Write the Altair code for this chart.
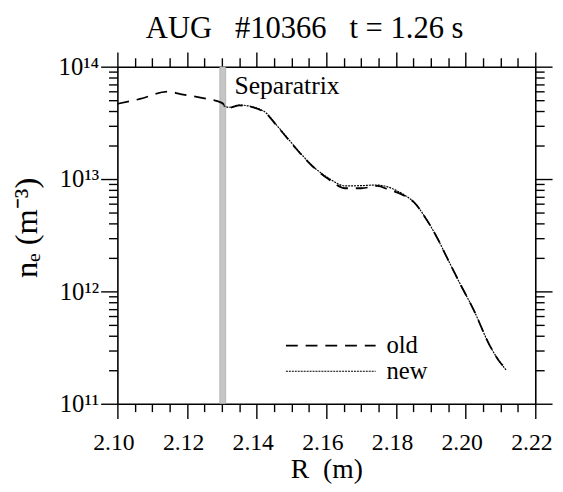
import altair as alt
import pandas as pd

FONT = "Liberation Serif"
NB = "\u00a0"

# ---- data ----
R_old = [2.100, 2.1065, 2.1144, 2.1181, 2.1258, 2.1300, 2.1319, 2.1351, 2.1418, 2.1464,
         2.1512, 2.1560, 2.1606, 2.1654, 2.1701, 2.1747, 2.1776, 2.1824, 2.1852, 2.1889,
         2.1917, 2.1945, 2.1984, 2.2022, 2.2069, 2.2097, 2.2116]
ne_old = [4.67e13, 5.16e13, 6.0e13, 5.71e13, 5.16e13, 4.76e13, 4.29e13, 4.52e13, 4.01e13, 2.82e13,
          1.88e13, 1.30e13, 1.0e13, 8.28e12, 8.28e12, 8.69e12, 8.11e12, 7.10e12, 6.19e12, 4.29e12,
          3.05e12, 2.04e12, 1.17e12, 6.95e11, 3.31e11, 2.38e11, 2.07e11]

R_new = [2.1305, 2.1319, 2.1351, 2.1418, 2.1464, 2.1512, 2.1560, 2.1606, 2.1654, 2.1701,
         2.1747, 2.1776, 2.1824, 2.1852, 2.1889, 2.1917, 2.1945, 2.1984, 2.2022, 2.2069,
         2.2097, 2.2116]
ne_new = [4.5e13, 4.35e13, 4.55e13, 4.05e13, 2.85e13, 1.9e13, 1.31e13, 1.02e13, 8.69e12, 8.74e12,
          8.85e12, 8.51e12, 7.2e12, 6.2e12, 4.3e12, 3.05e12, 2.04e12, 1.17e12, 6.95e11, 3.31e11,
          2.38e11, 2.0e11]

series_names = ["old", "new"]
sep_R = [2.1294, 2.1311]
y_range = [1e11, 1e14]
sep_label = ["Separatrix"]
sep_label_pos = [2.1336, 5.68e13]

x_ticks = [2.100, 2.105, 2.110, 2.115, 2.120, 2.125, 2.130, 2.135, 2.140, 2.145, 2.150, 2.155,
           2.160, 2.165, 2.170, 2.175, 2.180, 2.185, 2.190, 2.195, 2.200, 2.205, 2.210, 2.215, 2.220]
y_ticks = [k * 10 ** n for n in (11, 12, 13) for k in range(1, 10)] + [10 ** 14]
y_major = [10 ** 11, 10 ** 12, 10 ** 13, 10 ** 14]
y_major_labels = ["10¹¹", "10¹²", "10¹³", "10¹⁴"]

title_text = "AUG" + NB * 3 + "#10366" + NB * 3 + "t = 1.26 s"
x_title = "R" + NB * 2 + "(m)"
y_title = "nₑ" + NB + "(m⁻³)"

# ---- tables ----
df = pd.concat([
    pd.DataFrame({"R": R_old, "ne": ne_old, "series": series_names[0]}),
    pd.DataFrame({"R": R_new, "ne": ne_new, "series": series_names[1]}),
])
band_df = pd.DataFrame({"x": [sep_R[0]], "x2": [sep_R[1]], "y": [y_range[0]], "y2": [y_range[1]]})
text_df = pd.DataFrame({"x": [sep_label_pos[0]], "y": [sep_label_pos[1]], "t": sep_label})

xscale = alt.Scale(domain=[2.10, 2.22], nice=False, zero=False)
yscale = alt.Scale(type="log", domain=y_range, nice=False)

x_major_test = "round(datum.value*200) % 4 == 0"
y_major_test = "indexof(%s, datum.value) >= 0" % str([float(v) for v in y_major])
y_label_expr = " : ".join(
    "datum.value == %r ? '%s'" % (float(v), l) for v, l in zip(y_major, y_major_labels)
) + " : ''"

common = dict(domainColor="black", tickColor="black", domainWidth=1.6, tickWidth=1.4,
              grid=False, labelFont=FONT, labelColor="black", labelOverlap=False,
              labelFlush=False, titleFont=FONT, titleColor="black", titleFontWeight="normal")

x_bottom = alt.Axis(values=x_ticks, orient="bottom",
                    tickSize={"condition": {"test": x_major_test, "value": 15}, "value": 8},
                    labelExpr=x_major_test + " ? format(datum.value, '.2f') : ''",
                    labelFontSize=24, labelPadding=12, labelOffset=-4,
                    title=x_title, titleFontSize=28,
                    titleBaseline="alphabetic", titleY=75, **common)
x_top = alt.Axis(values=x_ticks, orient="top",
                 tickSize={"condition": {"test": x_major_test, "value": 15}, "value": 9},
                 labels=False, title=None, **common)
y_left = alt.Axis(values=y_ticks, orient="left",
                  tickSize={"condition": {"test": y_major_test, "value": 17}, "value": 9},
                  labelExpr=y_label_expr, labelFontSize=25, labelPadding=2,
                  title=y_title, titleFontSize=33, titleAngle=270, titleAlign="center",
                  titleBaseline="alphabetic", titleX=-82, titleY=163, **common)
y_right = alt.Axis(values=y_ticks, orient="right",
                   tickSize={"condition": {"test": y_major_test, "value": 17}, "value": 9},
                   labels=False, title=None, **common)

band = alt.Chart(band_df).mark_rect(fill="#c6c6c6", stroke="#8f8f8f", strokeWidth=0.5).encode(
    x=alt.X("x:Q", scale=xscale, axis=None), x2="x2:Q",
    y=alt.Y("y:Q", scale=yscale, axis=None), y2="y2:Q",
)

lines = alt.Chart(df).mark_line(interpolate="monotone", color="black").encode(
    x=alt.X("R:Q", scale=xscale, axis=x_bottom),
    y=alt.Y("ne:Q", scale=yscale, axis=y_left),
    strokeDash=alt.StrokeDash(
        "series:N", scale=alt.Scale(domain=series_names, range=[[12, 8], [2, 1]]),
        legend=alt.Legend(title=None, orient="none", legendX=170, legendY=270,
                          symbolType="stroke", symbolSize=8281, symbolStrokeColor="black",
                          symbolStrokeWidth=1.6, labelFont=FONT, labelFontSize=25,
                          labelColor="black", labelOffset=10, rowPadding=0, clipHeight=26,
                          padding=0)),
    strokeWidth=alt.StrokeWidth("series:N", scale=alt.Scale(domain=series_names, range=[1.8, 1.2]),
                                legend=None),
    order=alt.Order("R:Q"),
)

txt = alt.Chart(text_df).mark_text(align="left", baseline="alphabetic", font=FONT,
                                   fontSize=26, color="black").encode(
    x=alt.X("x:Q", scale=xscale, axis=None),
    y=alt.Y("y:Q", scale=yscale, axis=None),
    text="t:N",
)

frame = alt.Chart(df).mark_line(opacity=0).encode(
    x=alt.X("R:Q", scale=xscale, axis=x_top),
    y=alt.Y("ne:Q", scale=yscale, axis=y_right),
)

chart = alt.layer(band, lines, txt, frame).resolve_axis(
    x="independent", y="independent"
).properties(
    width=424, height=342,
    autosize="none",
    padding={"left": 111, "top": 56, "right": 20, "bottom": 86},
    title=alt.TitleParams(text=title_text, font=FONT, fontSize=31, fontWeight="normal",
                          color="black", anchor="middle", dx=-22, offset=6),
).configure_view(stroke=None)

chart.save("out.html", embed_options={"renderer": "svg", "actions": False})
